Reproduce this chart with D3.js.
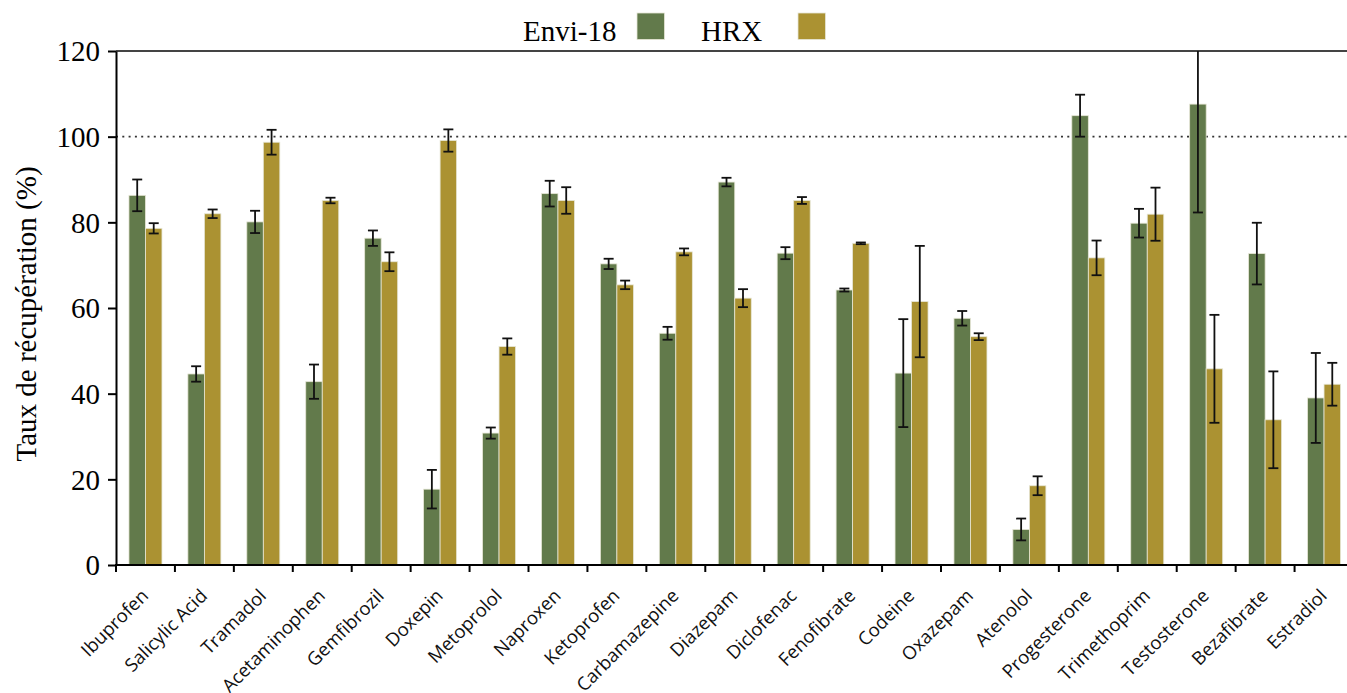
<!DOCTYPE html>
<html><head><meta charset="utf-8">
<script src="https://cdn.jsdelivr.net/npm/d3@7"></script>
<style>
html,body{margin:0;padding:0;background:#fff;}
svg{display:block;}
</style></head>
<body>
<svg id="chart" width="1347" height="693"></svg>
<script>
const categories = ["Ibuprofen","Salicylic Acid","Tramadol","Acetaminophen","Gemfibrozil","Doxepin","Metoprolol","Naproxen","Ketoprofen","Carbamazepine","Diazepam","Diclofenac","Fenofibrate","Codeine","Oxazepam","Atenolol","Progesterone","Trimethoprim","Testosterone","Bezafibrate","Estradiol"];
const seriesNames = ["Envi-18","HRX"];
const envi18 = [86.3,44.6,80.1,42.8,76.3,17.7,30.8,86.7,70.3,54.1,89.4,72.8,64.2,44.8,57.6,8.3,104.9,79.8,107.6,72.7,39.0];
const envi18Err = [3.7,1.8,2.6,4.0,1.8,4.5,1.3,3.0,1.2,1.5,1.0,1.4,0.35,12.6,1.7,2.55,4.9,3.35,25.3,7.2,10.5];
const hrx = [78.6,82.0,98.7,85.1,70.8,99.1,51.0,85.1,65.4,73.1,62.3,85.1,75.1,61.5,53.3,18.5,71.7,81.9,45.8,33.9,42.2];
const hrxErr = [1.2,1.0,2.9,0.65,2.2,2.6,1.9,3.1,1.0,0.8,2.1,0.8,0.2,13.0,0.8,2.2,4.05,6.2,12.6,11.3,5.0];
const yTicks = [0,20,40,60,80,100,120];
const refLine = 100;
const colors = ["#627a4b","#ab9232"];

(function(){
const svg = d3.select("#chart");
const pLeft = 116, pRight = 1353.5, pTop = 51, pBottom = 565, svgW = 1347;
const serif = "'Liberation Serif','Times New Roman',Times,serif";

const x0 = d3.scaleBand().domain(categories).range([pLeft, pRight]).paddingInner(0.44).paddingOuter(0.22);
const x1 = d3.scaleBand().domain(seriesNames).range([0, x0.bandwidth()]);
const y = d3.scaleLinear().domain([0,120]).range([pBottom, pTop]);

svg.append("defs").append("clipPath").attr("id","plotclip")
  .append("rect").attr("x",pLeft).attr("y",pTop).attr("width",svgW-pLeft).attr("height",pBottom-pTop);

// reference dotted line
svg.append("line").attr("x1",pLeft).attr("x2",svgW).attr("y1",y(refLine)).attr("y2",y(refLine))
  .attr("stroke","#333").attr("stroke-width",1.6).attr("stroke-dasharray","2,4.3");

// top border
svg.append("line").attr("x1",pLeft).attr("x2",svgW).attr("y1",pTop).attr("y2",pTop)
  .attr("stroke","#444").attr("stroke-width",2);

const data = categories.map((c,i)=>({c, vals:[{s:seriesNames[0],v:envi18[i],e:envi18Err[i]},{s:seriesNames[1],v:hrx[i],e:hrxErr[i]}]}));

const g = svg.append("g");
const groups = g.selectAll("g.cat").data(data).join("g").attr("class","cat")
  .attr("transform",d=>`translate(${x0(d.c)},0)`);
groups.selectAll("rect").data(d=>d.vals).join("rect")
  .attr("x",d=>x1(d.s)).attr("width",x1.bandwidth())
  .attr("y",d=>y(d.v)).attr("height",d=>y(0)-y(d.v))
  .attr("fill",(d,i)=>colors[i])
  .attr("stroke","#e6e6d6").attr("stroke-width",0.8);

// error bars
const eg = svg.append("g").attr("clip-path","url(#plotclip)");
data.forEach(d=>{
  d.vals.forEach((v,i)=>{
    const cx = x0(d.c)+x1(v.s)+x1.bandwidth()/2;
    const y1 = y(v.v+v.e), y2 = y(v.v-v.e);
    eg.append("line").attr("x1",cx).attr("x2",cx).attr("y1",y1).attr("y2",y2).attr("stroke","#111").attr("stroke-width",1.8);
    [y1,y2].forEach(yy=>{
      eg.append("line").attr("x1",cx-5).attr("x2",cx+5).attr("y1",yy).attr("y2",yy).attr("stroke","#111").attr("stroke-width",1.8);
    });
  });
});

// y axis
const yAxis = svg.append("g").attr("transform",`translate(${pLeft},0)`)
  .call(d3.axisLeft(y).tickValues(yTicks).tickSize(8).tickSizeOuter(0).tickPadding(8));
yAxis.select(".domain").attr("stroke","#000").attr("stroke-width",2);
yAxis.selectAll(".tick line").attr("stroke","#000").attr("stroke-width",2);
yAxis.selectAll(".tick text").attr("font-family",serif)
  .attr("font-size",29).attr("fill","#000").attr("dy","0.34em");

// x axis
svg.append("line").attr("x1",pLeft-1).attr("x2",svgW).attr("y1",pBottom).attr("y2",pBottom)
  .attr("stroke","#000").attr("stroke-width",2);
const step = x0.step();
const boundaries = categories.map((c,i)=>x0(c) - x0.paddingOuter()*step);
svg.append("g").selectAll("line").data(boundaries).join("line")
  .attr("x1",d=>d).attr("x2",d=>d).attr("y1",pBottom).attr("y2",pBottom+7)
  .attr("stroke","#000").attr("stroke-width",2);

svg.append("g").selectAll("text").data(categories).join("text")
  .attr("transform",d=>`translate(${x0(d)+x0.bandwidth()/2+4},${597}) rotate(-45)`)
  .attr("text-anchor","end")
  .attr("font-family","'Open Sans',sans-serif").attr("font-size",18.5).attr("fill","#111")
  .text(d=>d);

// y title
svg.append("text").attr("transform",`translate(36,314) rotate(-90)`)
  .attr("text-anchor","middle").attr("font-family",serif)
  .attr("font-size",29).attr("fill","#000").text("Taux de récupération (%)");

// legend
const legendItems = [{name:seriesNames[0],tx:523,sx:637},{name:seriesNames[1],tx:701,sx:798}];
const lg = svg.append("g");
legendItems.forEach((d,i)=>{
  lg.append("text").attr("x",d.tx).attr("y",40.5).attr("font-family",serif)
    .attr("font-size",29).attr("fill","#000").text(d.name);
  lg.append("rect").attr("x",d.sx).attr("y",13).attr("width",27.5).attr("height",26.5)
    .attr("fill",colors[i]).attr("stroke","#e6e6d6").attr("stroke-width",0.8);
});
})();
</script>
</body></html>
